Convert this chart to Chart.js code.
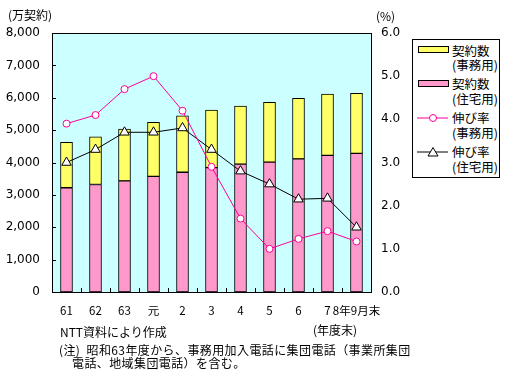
<!DOCTYPE html>
<html>
<head>
<meta charset="utf-8">
<script src="https://cdn.jsdelivr.net/npm/chart.js@4.4.1/dist/chart.umd.min.js"></script>
<style>
  html, body { margin: 0; padding: 0; background: #fff; }
  #wrap { position: relative; width: 506px; height: 379px; overflow: hidden;
          font-family: "Noto Sans CJK JP", "DejaVu Sans", sans-serif; font-size: 12px; color: #000; }
  #wrap canvas { position: absolute; left: 0; top: 0; }
  .t { position: absolute; white-space: nowrap; line-height: 14px; }
  #legend { position: absolute; left: 412px; top: 39px; width: 86px; height: 137px;
            border: 1px solid #000; background: #fff; }
  .sw { position: absolute; left: 5px; width: 29px; height: 5px; border: 1px solid #000; }
  .lt { position: absolute; left: 39px; line-height: 14px; white-space: nowrap; font-size: 12.5px; }
  .mk { position: absolute; left: 4px; }
</style>
</head>
<body>
<div id="wrap">
  <canvas id="c" width="506" height="379"></canvas>
  <div class="t" style="left:8px;top:8px;">(万契約)</div>
  <div class="t" style="left:376px;top:9px;">(%)</div>
  <div id="legend">
    <div class="sw" style="top:6px;background:#ffff66;"></div>
    <div class="lt" style="top:4px;">契約数</div>
    <div class="lt" style="top:18px;">(事務用)</div>
    <div class="sw" style="top:40px;background:#ff99cc;"></div>
    <div class="lt" style="top:37px;">契約数</div>
    <div class="lt" style="top:52px;">(住宅用)</div>
    <svg class="mk" style="top:72px;" width="32" height="12">
      <line x1="0" y1="6" x2="31" y2="6" stroke="#ff0099" stroke-width="1"/>
      <circle cx="16" cy="6" r="3.5" fill="#fff" stroke="#ff0099" stroke-width="1"/>
    </svg>
    <div class="lt" style="top:71px;">伸び率</div>
    <div class="lt" style="top:86px;">(事務用)</div>
    <svg class="mk" style="top:106px;" width="32" height="12">
      <line x1="0" y1="6" x2="31" y2="6" stroke="#000" stroke-width="1"/>
      <polygon points="16,1.5 21,10 11,10" fill="#fff" stroke="#000" stroke-width="1"/>
    </svg>
    <div class="lt" style="top:105px;">伸び率</div>
    <div class="lt" style="top:120px;">(住宅用)</div>
  </div>
  <div class="t" style="left:313px;top:323px;">(年度末)</div>
  <div class="t" style="left:60px;top:325px;">NTT資料により作成</div>
  <div class="t" style="left:59px;top:343px;letter-spacing:0.4px;">(注)&nbsp;&nbsp;昭和63年度から、事務用加入電話に集団電話（事業所集団</div>
  <div class="t" style="left:72px;top:356px;letter-spacing:0.4px;">電話、地域集団電話）を含む。</div>
</div>
<script>
const categories = ['61', '62', '63', '元', '2', '3', '4', '5', '6', '7', '8年9月末'];
const residentialContracts = [3220, 3320, 3430, 3570, 3700, 3840, 3950, 4010, 4110, 4220, 4280];
const businessContracts = [1400, 1470, 1600, 1670, 1740, 1780, 1790, 1850, 1870, 1890, 1860];
const businessGrowth = [3.9, 4.1, 4.7, 5.0, 4.2, 2.9, 1.7, 1.0, 1.23, 1.41, 1.17];
const residentialGrowth = [3.0, 3.3, 3.7, 3.7, 3.8, 3.3, 2.8, 2.5, 2.15, 2.17, 1.5];
const leftTicks = [0, 1000, 2000, 3000, 4000, 5000, 6000, 7000, 8000];
const rightTicks = [0, 1, 2, 3, 4, 5, 6];

Chart.defaults.color = '#000';
Chart.defaults.font.family = '"DejaVu Sans", sans-serif';
Chart.defaults.font.size = 12;

const frame = {
  id: 'frame',
  beforeDraw(chart) {
    const a = chart.chartArea, ctx = chart.ctx;
    ctx.save();
    ctx.fillStyle = '#ccffff';
    ctx.fillRect(a.left, a.top, a.right - a.left, a.bottom - a.top);
    ctx.restore();
  },
  afterDatasetsDraw(chart) {
    const a = chart.chartArea, ctx = chart.ctx;
    const x = chart.scales.x, y = chart.scales.y;
    ctx.save();
    ctx.strokeStyle = '#000';
    ctx.lineWidth = 1;
    ctx.beginPath();
    for (let i = 0; i < categories.length - 1; i++) {
      const px = Math.round((x.getPixelForValue(i) + x.getPixelForValue(i + 1)) / 2) + 0.5;
      ctx.moveTo(px, a.bottom);
      ctx.lineTo(px, a.bottom - 4);
    }
    leftTicks.forEach(v => {
      const py = Math.round(y.getPixelForValue(v)) + 0.5;
      ctx.moveTo(a.left, py);
      ctx.lineTo(a.left + 4, py);
    });
    ctx.stroke();
    ctx.strokeRect(Math.round(a.left) + 0.5, Math.round(a.top) + 0.5,
                   Math.round(a.right - a.left), Math.round(a.bottom - a.top));
    ctx.restore();
  }
};

new Chart(document.getElementById('c'), {
  data: {
    labels: categories,
    datasets: [
      { type: 'line', label: '伸び率(事務用)', data: businessGrowth, yAxisID: 'y1', order: 0,
        borderColor: '#ff0099', borderWidth: 1, backgroundColor: '#fff',
        pointStyle: 'circle', pointRadius: 3.5, pointBorderWidth: 1,
        pointBackgroundColor: '#fff', pointBorderColor: '#ff0099', tension: 0 },
      { type: 'line', label: '伸び率(住宅用)', data: residentialGrowth, yAxisID: 'y1', order: 0,
        borderColor: '#000', borderWidth: 1, backgroundColor: '#fff',
        pointStyle: 'triangle', pointRadius: 5.5, pointBorderWidth: 1,
        pointBackgroundColor: '#fff', pointBorderColor: '#000', tension: 0 },
      { type: 'bar', label: '契約数(住宅用)', data: residentialContracts, yAxisID: 'y', order: 1,
        backgroundColor: '#ff99cc', borderColor: '#000', borderWidth: 1, borderSkipped: false,
        barThickness: 12 },
      { type: 'bar', label: '契約数(事務用)', data: businessContracts, yAxisID: 'y', order: 1,
        backgroundColor: '#ffff66', borderColor: '#000', borderWidth: 1, borderSkipped: false,
        barThickness: 12 }
    ]
  },
  options: {
    responsive: false,
    animation: false,
    layout: { padding: { top: 33, left: 0, right: 0, bottom: 0 } },
    plugins: { legend: { display: false }, tooltip: { enabled: false } },
    scales: {
      x: {
        stacked: true,
        offset: true,
        grid: { display: false, drawTicks: false },
        border: { display: false },
        ticks: { autoSkip: false, maxRotation: 0, minRotation: 0, padding: 12,
                 font: { family: '"Noto Sans CJK JP", "DejaVu Sans", sans-serif', size: 11.5 } },
        afterFit(s) { s.height = 87; }
      },
      y: {
        position: 'left',
        stacked: true,
        min: 0, max: 8000,
        grid: { display: false, drawTicks: false },
        border: { display: false },
        afterBuildTicks(s) { s.ticks = leftTicks.map(v => ({ value: v })); },
        ticks: { padding: 12, callback: v => v.toLocaleString('en-US') },
        afterFit(s) { s.width = 52; }
      },
      y1: {
        position: 'right',
        stacked: false,
        min: 0, max: 6,
        grid: { display: false, drawTicks: false },
        border: { display: false },
        afterBuildTicks(s) { s.ticks = rightTicks.map(v => ({ value: v })); },
        ticks: { padding: 10, callback: v => Number(v).toFixed(1) },
        afterFit(s) { s.width = 135; }
      }
    }
  },
  plugins: [frame]
});
</script>
</body>
</html>
